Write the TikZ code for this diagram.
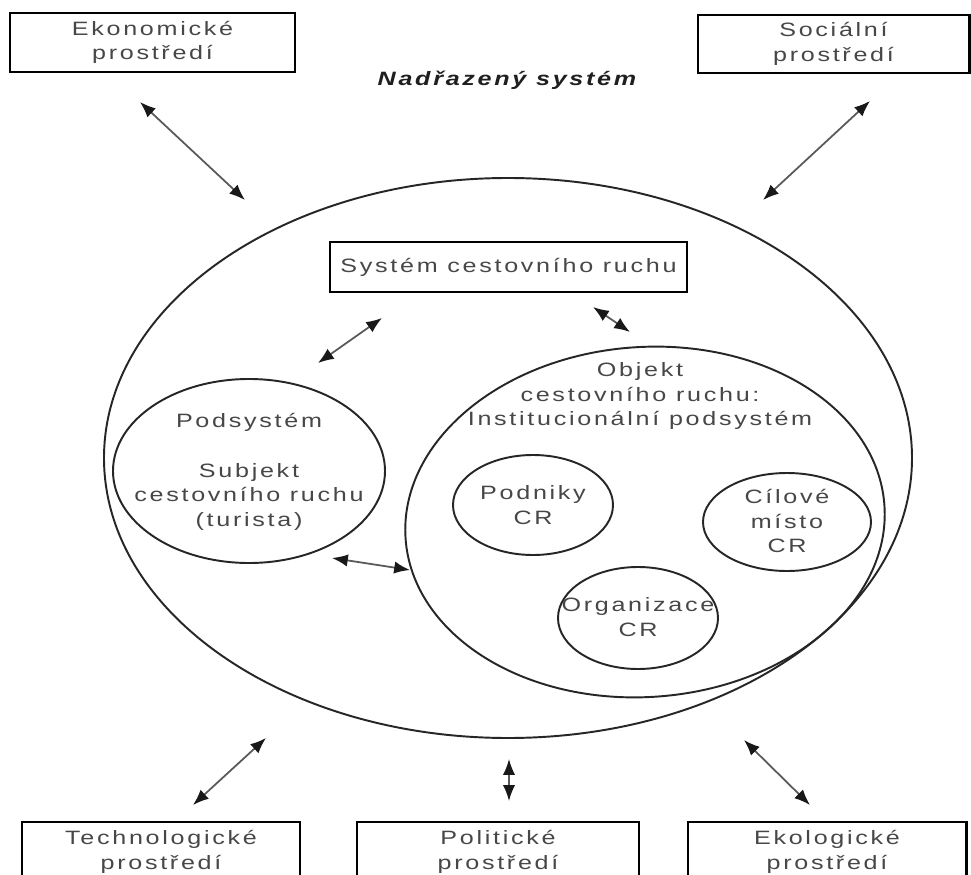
\documentclass[tikz,border=0pt]{standalone}
\usepackage{fontspec}
\setmainfont{Liberation Sans}[FakeStretch=1.3,LetterSpace=14]
\usepackage{tikz}
\usetikzlibrary{arrows.meta,shapes.geometric}
\newcommand{\pxl}{0.02cm} % one pixel of the reference
\tikzset{
every node/.style={font=\fontsize{11}{14}\selectfont, text=black!72}, % grey sans text
envbox/.style={draw=black, line width=1.7pt, align=center, inner sep=0pt}, % framed boxes
oval/.style={ellipse, draw=black!85, line width=1.1pt, inner sep=0pt}, % ellipses, drawn empty
label text/.style={align=center, inner sep=0pt}, % text placed into an ellipse
biarrow/.style={{Latex[length=9pt,width=7pt,color=black!90]}-{Latex[length=9pt,width=7pt,color=black!90]}, line width=1pt, draw=black!65}, % two-headed connector
}
\begin{document}
\begin{tikzpicture}[x=\pxl, y=-\pxl]
		\clip (0,0) rectangle (971,875);
		\fill[white] (0,0) rectangle (971,875);
		% surroundings
		\node[envbox, minimum width=285*\pxl, minimum height=59*\pxl] (ekon) at (152.5,42.5) {Ekonomické\\prostředí};
		\node[envbox, minimum width=271*\pxl, minimum height=58*\pxl] (soc) at (833.5,44) {Sociální\\prostředí};
		\node[envbox, minimum width=278*\pxl, minimum height=60*\pxl] (tech) at (161,852) {Technologické\\prostředí};
		\node[envbox, minimum width=282*\pxl, minimum height=60*\pxl] (pol) at (498,852) {Politické\\prostředí};
		\node[envbox, minimum width=278*\pxl, minimum height=60*\pxl] (ekol) at (827,852) {Ekologické\\prostředí};
		\node[font=\fontsize{11}{14}\selectfont\bfseries\itshape, text=black!88] (nadr) at (507,80) {Nadřazený systém};
		% the system and its parts
		\node[oval, minimum width=808*\pxl, minimum height=560*\pxl] (big) at (508,458) {};
		\node[envbox, minimum width=357*\pxl, minimum height=50*\pxl] (sys) at (508.5,267) {Systém cestovního ruchu};
		\node[oval, minimum width=272*\pxl, minimum height=184*\pxl] (podsys) at (249,471) {};
		\node[label text] (podsys-t) at (249,472) {Podsystém\\[14pt]Subjekt\\cestovního ruchu\\(turista)};
		\node[oval, rotate=4, minimum width=480*\pxl, minimum height=350*\pxl] (objekt) at (645,522) {};
		\node[label text] (objekt-t) at (640,396) {Objekt\\cestovního ruchu:\\Institucionální podsystém};
		\node[oval, minimum width=160*\pxl, minimum height=100*\pxl] (podniky) at (533,505) {};
		\node[label text] (podniky-t) at (533,505) {Podniky\\CR};
		\node[oval, minimum width=168*\pxl, minimum height=98*\pxl] (cil) at (787,522) {};
		\node[label text] (cil-t) at (787,521) {Cílové\\místo\\CR};
		\node[oval, minimum width=160*\pxl, minimum height=102*\pxl] (org) at (638,618) {};
		\node[label text] (org-t) at (638,617) {Organizace\\CR};
		% ends of the connectors
		\coordinate (ekon-a) at (140,102);
		\coordinate (ekon-b) at (245,200);
		\coordinate (soc-a) at (870,101);
		\coordinate (soc-b) at (763,200);
		\coordinate (tech-a) at (193,805);
		\coordinate (tech-b) at (266,738);
		\coordinate (pol-a) at (509,801);
		\coordinate (pol-b) at (509,759);
		\coordinate (ekol-a) at (810,805);
		\coordinate (ekol-b) at (744,740);
		\coordinate (sys-l) at (382,318);
		\coordinate (podsys-u) at (318,363);
		\coordinate (sys-r) at (593,307);
		\coordinate (objekt-u) at (630,332);
		\coordinate (podsys-r) at (332,558);
		\coordinate (objekt-l) at (410,570);
		\draw[biarrow] (ekon-a) -- (ekon-b);
		\draw[biarrow] (soc-a) -- (soc-b);
		\draw[biarrow] (tech-a) -- (tech-b);
		\draw[biarrow] (pol-a) -- (pol-b);
		\draw[biarrow] (ekol-a) -- (ekol-b);
		\draw[biarrow] (sys-l) -- (podsys-u);
		\draw[biarrow] (sys-r) -- (objekt-u);
		\draw[biarrow] (podsys-r) -- (objekt-l);
	\end{tikzpicture}
\end{document}
